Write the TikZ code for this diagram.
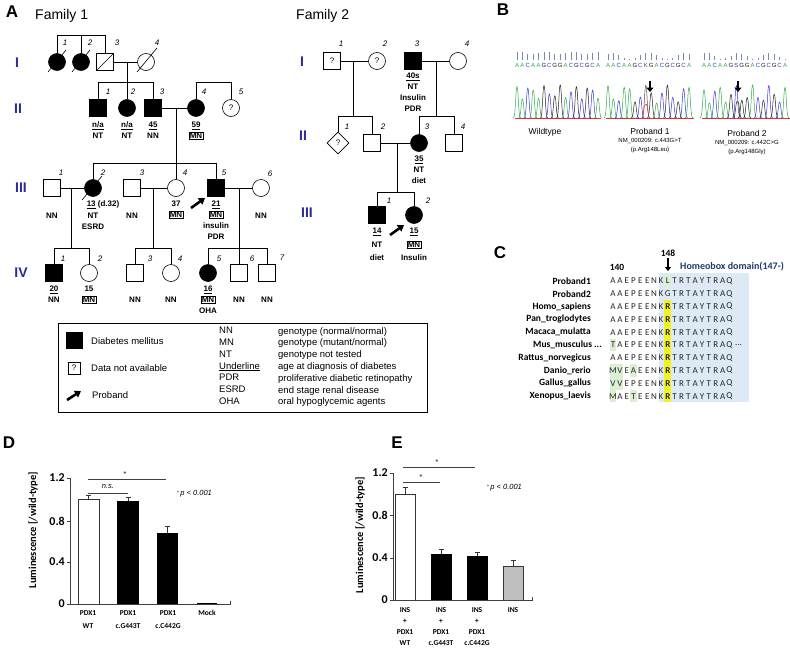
\documentclass[tikz,border=0pt]{standalone}
\usepackage{fontspec}
\setmainfont{Liberation Sans}
\newfontfamily\calfont{Carlito}
\usetikzlibrary{positioning,shapes.geometric,arrows.meta}

\definecolor{genblue}{HTML}{2B2B9C}
\definecolor{boxblue}{HTML}{DDEAF6}
\definecolor{hiyellow}{HTML}{F2F21E}
\definecolor{higreen}{HTML}{DCEFD2}
\definecolor{navy}{HTML}{1F3A6E}
\definecolor{baseA}{HTML}{2EAA4A}
\definecolor{baseC}{HTML}{3535E0}
\definecolor{baseG}{HTML}{202020}
\definecolor{baseT}{HTML}{E03030}
\definecolor{baseK}{HTML}{505050}
\definecolor{baseS}{HTML}{3535E0}
\definecolor{barc}{HTML}{7A8AA8}

\newcommand{\mnbox}{{\setlength{\fboxsep}{0.7pt}\setlength{\fboxrule}{0.5pt}\fbox{MN}}}

\tikzset{
  ped/.style={line width=0.6pt},
  sq/.style={draw, rectangle, minimum size=17pt, inner sep=0pt, line width=0.6pt},
  ci/.style={draw, circle, minimum size=17pt, inner sep=0pt, line width=0.6pt},
  dm/.style={draw, diamond, minimum size=22pt, inner sep=0pt, line width=0.6pt},
  aff/.style={fill=black},
  qm/.style={font=\fontsize{8}{8}\selectfont},
  idx/.style={font=\fontsize{8}{8}\selectfont\itshape, inner sep=0pt},
  lab/.style={font=\fontsize{8}{11}\selectfont\bfseries, align=center, anchor=north, inner sep=0pt},
  gen/.style={font=\fontsize{14}{14}\selectfont\bfseries, text=genblue, inner sep=0pt},
  pan/.style={font=\fontsize{17}{17}\selectfont\bfseries, inner sep=0pt},
  ttl/.style={font=\fontsize{14}{14}\selectfont, inner sep=0pt, anchor=west},
  prob/.style={-{Triangle[length=6pt,width=7.5pt]}, line width=2.6pt},
  lgt/.style={font=\fontsize{9.5}{11.8}\selectfont, inner sep=0pt, align=left},
  nt/.style={font=\fontsize{6}{6}\selectfont, inner sep=0pt},
  captxt/.style={font=\fontsize{8.5}{9}\selectfont, inner sep=0pt},
  subtxt/.style={font=\fontsize{6}{7}\selectfont, inner sep=0pt},
  aa/.style={font=\calfont\fontsize{9}{9}\selectfont, inner sep=0pt, text=black!85},
  spn/.style={font=\calfont\bfseries\fontsize{9.5}{10}\selectfont, anchor=east, inner sep=0pt},
  axc/.style={line width=0.6pt, black!75},
  axl/.style={font=\calfont\bfseries\fontsize{12}{12}\selectfont, anchor=east, inner sep=1pt},
  ylab/.style={font=\calfont\bfseries\fontsize{10.5}{11}\selectfont, rotate=90, inner sep=0pt},
  xlab/.style={font=\calfont\bfseries\fontsize{7.5}{13}\selectfont, align=center, anchor=north, inner sep=0pt},
  xlabe/.style={font=\calfont\bfseries\fontsize{7.5}{11}\selectfont, align=center, anchor=north, inner sep=0pt},
  barl/.style={line width=0.9pt, black!80},
  sigl/.style={line width=0.7pt, black!75},
  pv/.style={font=\fontsize{7.5}{8}\selectfont, inner sep=0pt, anchor=west},
}

\begin{document}
\begin{tikzpicture}[x=1pt,y=-1pt]
\useasboundingbox (0,0) rectangle (790,648);

% ---------------- A, family 1
\node[pan] (pA) at (12,12) {A};
\node[ttl] (f1-title) at (35,16) {Family 1};
\node[gen] (f1-gI) at (17,63) {I};
\node[gen] (f1-gII) at (18,109) {II};
\node[gen] (f1-gIII) at (21,188) {III};
\node[gen] (f1-gIV) at (21,273) {IV};

\node[ci, aff] (f1-I1) at (57,62) {};
\node[ci, aff] (f1-I2) at (81,62) {};
\node[sq] (f1-I3) at (105,62) {};
\node[ci] (f1-I4) at (146,62) {};
\node[sq, aff] (f1-II1) at (98,108) {};
\node[ci, aff] (f1-II2) at (127,108) {};
\node[sq, aff] (f1-II3) at (153,108) {};
\node[ci, aff] (f1-II4) at (196,108) {};
\node[ci, qm] (f1-II5) at (231,108) {?};
\node[sq] (f1-III1) at (52,188) {};
\node[ci, aff] (f1-III2) at (93,188) {};
\node[sq] (f1-III3) at (132,188) {};
\node[ci] (f1-III4) at (176,188) {};
\node[sq, aff] (f1-III5) at (216,188) {};
\node[ci] (f1-III6) at (261,188) {};
\node[sq, aff] (f1-IV1) at (54,273) {};
\node[ci] (f1-IV2) at (89,273) {};
\node[sq] (f1-IV3) at (135,273) {};
\node[ci] (f1-IV4) at (171,273) {};
\node[ci, aff] (f1-IV5) at (208,273) {};
\node[sq] (f1-IV6) at (239,273) {};
\node[sq] (f1-IV7) at (267,273) {};

\draw[ped] ([shift={(-9,10)}]f1-I1.center) -- ([shift={(9,-12)}]f1-I1.center);
\draw[ped] ([shift={(-9,10)}]f1-I2.center) -- ([shift={(9,-12)}]f1-I2.center);
\draw[ped] ([shift={(-9,10)}]f1-I4.center) -- ([shift={(11,-14)}]f1-I4.center);
\draw[ped] ([shift={(-11,12)}]f1-III2.center) -- ([shift={(9,-12)}]f1-III2.center);
\draw[ped] (f1-I3.south west) -- (f1-I3.north east);

\coordinate (f1-t0) at (0,35);
\coordinate (f1-t1) at (0,82);
\coordinate (f1-t2) at (0,163);
\coordinate (f1-t3) at (0,248);
\coordinate (f1-d1) at (127,62);
\coordinate (f1-d2) at (176,108);
\coordinate (f1-d3) at (71,188);
\coordinate (f1-d4) at (153,188);
\coordinate (f1-d5) at (239,188);

\draw[ped] (f1-I1.north) |- (f1-I3.north |- f1-t0) -- (f1-I3.north);
\draw[ped] (f1-I2.north) -- (f1-I2.north |- f1-t0);
\draw[ped] (f1-I3) -- (f1-I4);
\draw[ped] (f1-d1) -- (f1-d1 |- f1-t1);
\draw[ped] (f1-II1.north) |- (f1-II3.north |- f1-t1) -- (f1-II3.north);
\draw[ped] (f1-II2.north) -- (f1-II2.north |- f1-t1);
\draw[ped] (f1-II4.north) |- (f1-II5.north |- f1-t1) -- (f1-II5.north);
\draw[ped] (f1-II3) -- (f1-II4);
\draw[ped] (f1-d2) -- (f1-d2 |- f1-t2);
\draw[ped] (f1-III2.north) |- (f1-III5.north |- f1-t2) -- (f1-III5.north);
\draw[ped] (f1-III4.north) -- (f1-III4.north |- f1-t2);
\draw[ped] (f1-III1) -- (f1-III2);
\draw[ped] (f1-III3) -- (f1-III4);
\draw[ped] (f1-III5) -- (f1-III6);
\draw[ped] (f1-d3) -- (f1-d3 |- f1-t3);
\draw[ped] (f1-d4) -- (f1-d4 |- f1-t3);
\draw[ped] (f1-d5) -- (f1-d5 |- f1-t3);
\draw[ped] (f1-IV1.north) |- (f1-IV2.north |- f1-t3) -- (f1-IV2.north);
\draw[ped] (f1-IV3.north) |- (f1-IV4.north |- f1-t3) -- (f1-IV4.north);
\draw[ped] (f1-IV5.north) |- (f1-IV7.north |- f1-t3) -- (f1-IV7.north);
\draw[ped] (f1-IV6.north) -- (f1-IV6.north |- f1-t3);

\node[idx] (f1-nI1) at (65,43) {1};
\node[idx] (f1-nI2) at (90,43) {2};
\node[idx] (f1-nI3) at (117,43) {3};
\node[idx] (f1-nI4) at (157,43) {4};
\node[idx] (f1-nII1) at (108,92) {1};
\node[idx] (f1-nII2) at (133,92) {2};
\node[idx] (f1-nII3) at (162,92) {3};
\node[idx] (f1-nII4) at (204,92) {4};
\node[idx] (f1-nII5) at (241,92) {5};
\node[idx] (f1-nIII1) at (61,173) {1};
\node[idx] (f1-nIII2) at (103,173) {2};
\node[idx] (f1-nIII3) at (142,173) {3};
\node[idx] (f1-nIII4) at (185,173) {4};
\node[idx] (f1-nIII5) at (224,173) {5};
\node[idx] (f1-nIII6) at (270,174) {6};
\node[idx] (f1-nIV1) at (63,259) {1};
\node[idx] (f1-nIV2) at (100,259) {2};
\node[idx] (f1-nIV3) at (150,259) {3};
\node[idx] (f1-nIV4) at (180,259) {4};
\node[idx] (f1-nIV5) at (219,259) {5};
\node[idx] (f1-nIV6) at (252,259) {6};
\node[idx] (f1-nIV7) at (282,258) {7};

\node[lab] (f1-lII1) at (98,122) {\underline{n/a}\\NT};
\node[lab] (f1-lII2) at (127,122) {\underline{n/a}\\NT};
\node[lab] (f1-lII3) at (153,122) {\underline{45}\\NN};
\node[lab] (f1-lII4) at (196,122) {\underline{59}\\\mnbox};
\node[lab] (f1-lIII1) at (52,213) {NN};
\node[lab] (f1-lIII2a) at (103,201) {\underline{13} (d.32)};
\node[lab] (f1-lIII2) at (93,213) {NT\\ESRD};
\node[lab] (f1-lIII3) at (132,213) {NN};
\node[lab] (f1-lIII4) at (176,201) {37\\\mnbox};
\node[lab] (f1-lIII5) at (216,201) {\underline{21}\\\mnbox\\insulin\\PDR};
\node[lab] (f1-lIII6) at (261,213) {NN};
\node[lab] (f1-lIV1) at (54,286) {\underline{20}\\NN};
\node[lab] (f1-lIV2) at (89,286) {15\\\mnbox};
\node[lab] (f1-lIV3) at (135,297) {NN};
\node[lab] (f1-lIV4) at (171,297) {NN};
\node[lab] (f1-lIV5) at (208,286) {\underline{16}\\\mnbox\\OHA};
\node[lab] (f1-lIV6) at (239,297) {NN};
\node[lab] (f1-lIV7) at (267,297) {NN};

\coordinate (f1-pa) at (191,208);
\coordinate (f1-pb) at (205,198);
\draw[prob] (f1-pa) -- (f1-pb);

% legend
\node[draw, line width=0.6pt, minimum width=369pt, minimum height=89pt, inner sep=0pt, anchor=north west] (legend) at (58,323) {};
\node[sq, aff, minimum size=16pt] (lg-dm) at (74,340) {};
\node[lgt, anchor=west] (lg-dmt) at (91,341) {Diabetes mellitus};
\node[draw, line width=0.5pt, minimum size=12pt, inner sep=0pt, qm] (lg-q) at (74,368) {?};
\node[lgt, anchor=west] (lg-qt) at (91,368) {Data not available};
\coordinate (lg-pa) at (67,400);
\coordinate (lg-pb) at (81,391);
\draw[prob] (lg-pa) -- (lg-pb);
\node[lgt, anchor=west] (lg-pt) at (92,395) {Proband};
\node[lgt, anchor=north west] (lg-c2) at (219,327) {NN\\MN\\NT\\\underline{Underline}\\PDR\\ESRD\\OHA};
\node[lgt, anchor=north west] (lg-c3) at (278,327) {genotype (normal/normal)\\genotype (mutant/normal)\\genotype not tested\\age at diagnosis of diabetes\\proliferative diabetic retinopathy\\end stage renal disease\\oral hypoglycemic agents};

% ---------------- A, family 2
\node[ttl] (f2-title) at (296,16) {Family 2};
\node[gen] (f2-gI) at (302,62) {I};
\node[gen] (f2-gII) at (303,136) {II};
\node[gen] (f2-gIII) at (307,213) {III};

\node[sq, qm] (f2-I1) at (332,61) {?};
\node[ci, qm] (f2-I2) at (377,61) {?};
\node[sq, aff] (f2-I3) at (413,61) {};
\node[ci] (f2-I4) at (458,61) {};
\node[dm, qm] (f2-II1) at (338,143) {?};
\node[sq] (f2-II2) at (372,143) {};
\node[ci, aff] (f2-II3) at (419,143) {};
\node[sq] (f2-II4) at (454,143) {};
\node[sq, aff] (f2-III1) at (377,215) {};
\node[ci, aff] (f2-III2) at (414,215) {};

\coordinate (f2-t1) at (0,116);
\coordinate (f2-t2) at (0,192);
\coordinate (f2-d1) at (353,61);
\coordinate (f2-d2) at (436,61);
\coordinate (f2-d3) at (397,143);

\draw[ped] (f2-I1) -- (f2-I2);
\draw[ped] (f2-I3) -- (f2-I4);
\draw[ped] (f2-d1) -- (f2-d1 |- f2-t1);
\draw[ped] (f2-d2) -- (f2-d2 |- f2-t1);
\draw[ped] (f2-II1.north) |- (f2-II2.north |- f2-t1) -- (f2-II2.north);
\draw[ped] (f2-II3.north) |- (f2-II4.north |- f2-t1) -- (f2-II4.north);
\draw[ped] (f2-II2) -- (f2-II3);
\draw[ped] (f2-d3) -- (f2-d3 |- f2-t2);
\draw[ped] (f2-III1.north) |- (f2-III2.north |- f2-t2) -- (f2-III2.north);

\node[idx] (f2-nI1) at (341,44) {1};
\node[idx] (f2-nI2) at (385,44) {2};
\node[idx] (f2-nI3) at (417,44) {3};
\node[idx] (f2-nI4) at (467,44) {4};
\node[idx] (f2-nII1) at (347,127) {1};
\node[idx] (f2-nII2) at (383,127) {2};
\node[idx] (f2-nII3) at (427,127) {3};
\node[idx] (f2-nII4) at (463,127) {4};
\node[idx] (f2-nIII1) at (389,201) {1};
\node[idx] (f2-nIII2) at (428,201) {2};

\node[lab] (f2-lI3) at (413,73) {\underline{40s}\\NT\\Insulin\\PDR};
\node[lab] (f2-lII3) at (419,156) {\underline{35}\\NT\\diet};
\node[lab] (f2-lIII1) at (377,228) {\underline{14}\\[3pt]NT\\[2pt]diet};
\node[lab] (f2-lIII2) at (414,228) {\underline{15}\\[3pt]\mnbox\\[2pt]Insulin};

\coordinate (f2-pa) at (390,235);
\coordinate (f2-pb) at (404,225);
\draw[prob] (f2-pa) -- (f2-pb);

% ---------------- B
\node[pan] (pB) at (503,10) {B};
\foreach \bs [count=\i] in {A,A,C,A,A,G,C,G,G,A,C,G,C,G,C,A} {
  \pgfmathsetmacro{\px}{517+5.4*(\i-1)}
  \pgfmathsetmacro{\py}{118-26-7*sin(\i*131)}
  \pgfmathsetmacro{\qh}{60-7-1.5*sin(\i*71)}
  \node[nt, text=base\bs] (wt-\i) at (\px,65) {\bs};
  \draw[draw=base\bs, line width=0.5pt] (\px-3.6,118) .. controls (\px-1.3,118) and (\px-1.4,\py) .. (\px,\py) .. controls (\px+1.4,\py) and (\px+1.3,118) .. (\px+3.6,118);
  \draw[barc, line width=0.9pt] (\px,60) -- (\px,\qh);
}
\draw[baseT, line width=0.4pt] (515,118.5) -- (601,118.5);
\foreach \bs [count=\i] in {A,A,C,A,A,G,C,K,G,A,C,G,C,G,C,A} {
  \pgfmathsetmacro{\px}{608+5.4*(\i-1)}
  \pgfmathsetmacro{\py}{118-24-9*sin(\i*97+20)}
  \pgfmathsetmacro{\qh}{60-4-3*sin(\i*53)}
  \node[nt, text=base\bs] (p1-\i) at (\px,65) {\bs};
  \draw[draw=base\bs, line width=0.5pt] (\px-3.8,118) .. controls (\px-1.3,118) and (\px-1.4,\py) .. (\px,\py) .. controls (\px+1.4,\py) and (\px+1.3,118) .. (\px+3.8,118);
  \draw[barc, line width=0.9pt] (\px,60) -- (\px,\qh);
}
\draw[baseT, line width=0.5pt] (642,118) .. controls (643.5,118) and (643.5,104) .. (645.8,104) .. controls (648,104) and (648,118) .. (649.6,118);
\draw[baseT, line width=0.4pt] (606,118.5) -- (694,118.5);
\foreach \bs [count=\i] in {A,A,C,A,A,G,S,G,G,A,C,G,C,G,C,A} {
  \pgfmathsetmacro{\px}{704+5.4*(\i-1)}
  \pgfmathsetmacro{\py}{118-24-9*sin(\i*113+40)}
  \pgfmathsetmacro{\qh}{60-4-3*sin(\i*61)}
  \node[nt, text=base\bs] (p2-\i) at (\px,65) {\bs};
  \draw[draw=base\bs, line width=0.5pt] (\px-3.8,118) .. controls (\px-1.3,118) and (\px-1.4,\py) .. (\px,\py) .. controls (\px+1.4,\py) and (\px+1.3,118) .. (\px+3.8,118);
  \draw[barc, line width=0.9pt] (\px,60) -- (\px,\qh);
}
\draw[baseG, line width=0.5pt] (733.4,118) .. controls (735.5,118) and (735.5,101) .. (737.4,101) .. controls (739.5,101) and (739.5,118) .. (741.4,118);
\draw[baseT, line width=0.4pt] (702,118.5) -- (790,118.5);
\coordinate (b-a1) at (650,81);
\coordinate (b-a2) at (650,92);
\coordinate (b-a3) at (738,81);
\coordinate (b-a4) at (738,92);
\draw[-{Triangle[length=4.5pt,width=7pt]}, line width=2.2pt] (b-a1) -- (b-a2);
\draw[-{Triangle[length=4.5pt,width=7pt]}, line width=2.2pt] (b-a3) -- (b-a4);
\node[captxt] (b-wt) at (545,132) {Wildtype};
\node[captxt] (b-p1) at (650,131) {Proband 1};
\node[subtxt] (b-p1a) at (650,141) {NM\_000209: c.443G>T};
\node[subtxt] (b-p1b) at (650,150) {(p.Arg148Leu)};
\node[captxt] (b-p2) at (747,133) {Proband 2};
\node[subtxt] (b-p2a) at (747,143) {NM\_000209: c.442C>G};
\node[subtxt] (b-p2b) at (747,152) {(p.Arg148Gly)};

% ---------------- C
\node[pan] (pC) at (500,253) {C};
\fill[boxblue] (659,273) rectangle (749,402);
\fill[higreen] (664.4,275) rectangle (671.2,287);
\fill[hiyellow] (664.4,300) rectangle (671.2,402);
\fill[higreen] (609.6,338.6) rectangle (616.4,351.4);
\fill[higreen] (609.6,364.2) rectangle (623.2,377);
\fill[higreen] (630.1,364.2) rectangle (637,377);
\fill[higreen] (609.6,377) rectangle (623.2,389.8);
\fill[higreen] (609.6,389.8) rectangle (616.4,402);
\fill[higreen] (630.1,389.8) rectangle (637,402);
\node[font=\calfont\bfseries\fontsize{9.5}{10}\selectfont, inner sep=0pt] (c-148) at (668,253) {148};
\coordinate (c-ar1) at (668,258);
\coordinate (c-ar2) at (668,271);
\draw[-{Triangle[length=4pt,width=6pt]}, line width=1.8pt] (c-ar1) -- (c-ar2);
\node[font=\calfont\bfseries\fontsize{9.5}{10}\selectfont, inner sep=0pt] (c-140) at (617,267) {140};
\node[font=\calfont\bfseries\fontsize{10}{10}\selectfont, text=navy, inner sep=0pt, anchor=west] (c-hb) at (680,267) {Homeobox domain(147-)};
\node[spn] (c-n1) at (591,281) {Proband1};
\node[spn] (c-n2) at (591,293.8) {Proband2};
\node[spn] (c-n3) at (591,306.6) {Homo\_sapiens};
\node[spn] (c-n4) at (591,319.4) {Pan\_troglodytes};
\node[spn] (c-n5) at (591,332.2) {Macaca\_mulatta};
\node[spn] (c-n6) at (602,345) {Mus\_musculus ...};
\node[spn] (c-n7) at (591,357.8) {Rattus\_norvegicus};
\node[spn] (c-n8) at (591,370.6) {Danio\_rerio};
\node[spn] (c-n9) at (591,383.4) {Gallus\_gallus};
\node[spn] (c-n10) at (591,396.2) {Xenopus\_laevis};
\foreach \ch [count=\i] in {A,A,E,P,E,E,N,K,L,T,R,T,A,Y,T,R,A,Q}
  \node[aa] (c-r1-\i) at (613+6.85*\i-6.85,281) {\ch};
\foreach \ch [count=\i] in {A,A,E,P,E,E,N,K,G,T,R,T,A,Y,T,R,A,Q}
  \node[aa] (c-r2-\i) at (613+6.85*\i-6.85,293.8) {\ch};
\foreach \ch [count=\i] in {A,A,E,P,E,E,N,K,\textbf{R},T,R,T,A,Y,T,R,A,Q}
  \node[aa] (c-r3-\i) at (613+6.85*\i-6.85,306.6) {\ch};
\foreach \ch [count=\i] in {A,A,E,P,E,E,N,K,\textbf{R},T,R,T,A,Y,T,R,A,Q}
  \node[aa] (c-r4-\i) at (613+6.85*\i-6.85,319.4) {\ch};
\foreach \ch [count=\i] in {A,A,E,P,E,E,N,K,\textbf{R},T,R,T,A,Y,T,R,A,Q}
  \node[aa] (c-r5-\i) at (613+6.85*\i-6.85,332.2) {\ch};
\foreach \ch [count=\i] in {T,A,E,P,E,E,N,K,\textbf{R},T,R,T,A,Y,T,R,A,Q}
  \node[aa] (c-r6-\i) at (613+6.85*\i-6.85,345) {\ch};
\node[aa, anchor=west] (c-r6-dots) at (735,345) {...};
\foreach \ch [count=\i] in {A,A,E,P,E,E,N,K,\textbf{R},T,R,T,A,Y,T,R,A,Q}
  \node[aa] (c-r7-\i) at (613+6.85*\i-6.85,357.8) {\ch};
\foreach \ch [count=\i] in {M,V,E,A,E,E,N,K,\textbf{R},T,R,T,A,Y,T,R,A,Q}
  \node[aa] (c-r8-\i) at (613+6.85*\i-6.85,370.6) {\ch};
\foreach \ch [count=\i] in {V,V,E,P,E,E,N,K,\textbf{R},T,R,T,A,Y,T,R,A,Q}
  \node[aa] (c-r9-\i) at (613+6.85*\i-6.85,383.4) {\ch};
\foreach \ch [count=\i] in {M,A,E,T,E,E,N,K,\textbf{R},T,R,T,A,Y,T,R,A,Q}
  \node[aa] (c-r10-\i) at (613+6.85*\i-6.85,396.2) {\ch};

% ---------------- D
\node[pan] (pD) at (9,443) {D};
\fill[white] (78,604) rectangle (99,499);
\draw[barl] (78,604) rectangle (99,499);
\fill[black] (117,604) rectangle (139,501);
\fill[black] (157,604) rectangle (178,533);
\fill[black] (197,604) rectangle (217,602.5);
\draw[barl] (88.5,499) -- (88.5,495) (86,495) -- (91,495);
\draw[barl] (128,501) -- (128,497) (125.5,497) -- (130.5,497);
\draw[barl] (167.5,533) -- (167.5,526) (165,526) -- (170,526);
\draw[axc] (70,478) -- (70,604) -- (230,604) -- (230,601);
\foreach \v/\yy [count=\k] in {0/604,0.4/562,0.8/521,1.2/478} {
  \draw[axc] (67,\yy) -- (70,\yy);
  \node[axl] (d-t\k) at (66,\yy) {\v};
}
\node[ylab] (d-yl) at (33,530) {Luminescence [/wild-type]};
\draw[sigl] (88,479) -- (166,479);
\node[font=\fontsize{7}{7}\selectfont, inner sep=0pt] (d-s1) at (125,474) {*};
\draw[sigl] (88,493) -- (128,493);
\node[font=\fontsize{7.5}{8}\selectfont\itshape, inner sep=0pt] (d-ns) at (108,487) {n.s.};
\node[pv] (d-pv) at (177,494) {\raisebox{1.5pt}{\fontsize{5}{5}\selectfont*}\,\textit{p < 0.001}};
\node[xlab] (d-x1) at (88,610) {PDX1\\WT};
\node[xlab] (d-x2) at (128,610) {PDX1\\c.G443T};
\node[xlab] (d-x3) at (168,610) {PDX1\\c.C442G};
\node[xlab] (d-x4) at (207,610) {Mock};

% ---------------- E
\node[pan] (pE) at (397,443) {E};
\fill[white] (395,600) rectangle (415,494);
\draw[barl] (395,600) rectangle (415,494);
\fill[black] (431,600) rectangle (452,554);
\fill[black] (467,600) rectangle (488,556);
\fill[black!25] (503,600) rectangle (523,566);
\draw[barl] (503,600) rectangle (523,566);
\draw[barl] (405,494) -- (405,487) (402.5,487) -- (407.5,487);
\draw[barl] (441.5,554) -- (441.5,549) (439,549) -- (444,549);
\draw[barl] (477.5,556) -- (477.5,552) (475,552) -- (480,552);
\draw[barl] (513,566) -- (513,560) (510.5,560) -- (515.5,560);
\draw[axc] (393,473) -- (393,600) -- (532,600) -- (532,597);
\foreach \v/\yy [count=\k] in {0/600,0.4/558,0.8/515,1.2/473} {
  \draw[axc] (390,\yy) -- (393,\yy);
  \node[axl] (e-t\k) at (389,\yy) {\v};
}
\node[ylab] (e-yl) at (360,535) {Luminescence [/wild-type]};
\draw[sigl] (403,467) -- (475,467);
\node[font=\fontsize{7}{7}\selectfont, inner sep=0pt] (e-s1) at (437,462) {*};
\draw[sigl] (403,482) -- (440,482);
\node[font=\fontsize{7}{7}\selectfont, inner sep=0pt] (e-s2) at (421,477) {*};
\node[pv] (e-pv) at (487,488) {\raisebox{1.5pt}{\fontsize{5}{5}\selectfont*}\,\textit{p < 0.001}};
\node[xlabe] (e-x1) at (405,607) {INS\\+\\PDX1\\WT};
\node[xlabe] (e-x2) at (441,607) {INS\\+\\PDX1\\c.G443T};
\node[xlabe] (e-x3) at (477,607) {INS\\+\\PDX1\\c.C442G};
\node[xlabe] (e-x4) at (513,607) {INS};
\end{tikzpicture}
\end{document}
